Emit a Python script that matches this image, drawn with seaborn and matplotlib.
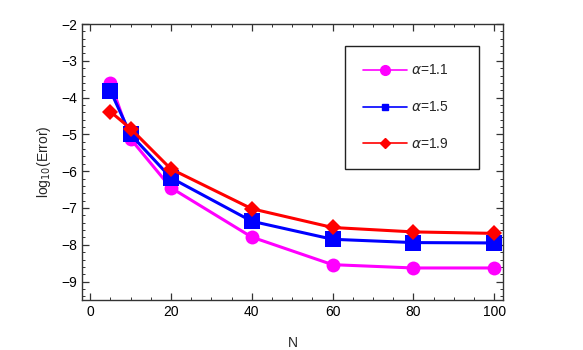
import numpy as np
import pandas as pd
import seaborn as sns
import matplotlib.pyplot as plt
from matplotlib.lines import Line2D
from matplotlib.ticker import MultipleLocator

## Data
n_vals = [5, 10, 20, 40, 60, 80, 100]
err_11 = [-3.59, -5.12, -6.45, -7.79, -8.54, -8.63, -8.63]
err_15 = [-3.81, -5.00, -6.18, -7.36, -7.85, -7.94, -7.95]
err_19 = [-4.38, -4.84, -5.94, -7.02, -7.53, -7.65, -7.69]
labels = ["α=1.1", "α=1.5", "α=1.9"]

df = pd.DataFrame({
	'N': n_vals * 3,
	'err': err_11 + err_15 + err_19,
	'alpha': [labels[0]] * 7 + [labels[1]] * 7 + [labels[2]] * 7,
})

colors = ["#ff00ff", "#0000ff", "#ff0000"]
markers = ["o", "s", "D"]
msizes = [10, 11, 8.5]

sns.set_style("ticks")
plt.rcParams['font.family'] = ['Liberation Sans', 'DejaVu Sans']

fig = plt.figure(figsize=(5.83, 3.5), dpi=100)
ax = fig.add_axes([0.1407, 0.1429, 0.7221, 0.7885])

# Lines + markers
for lab, col, mk, ms in zip(labels, colors, markers, msizes):
	sns.lineplot(data=df[df['alpha'] == lab], x='N', y='err', color=col, marker=mk,
	             markersize=ms, markeredgewidth=0, linewidth=2.2, ax=ax, legend=False)

ax.set_xlim(-2, 102.2)
ax.set_ylim(-9.5, -2)
ax.xaxis.set_major_locator(MultipleLocator(20))
ax.xaxis.set_minor_locator(MultipleLocator(5))
ax.yaxis.set_major_locator(MultipleLocator(1))
ax.yaxis.set_minor_locator(MultipleLocator(0.2))
ax.tick_params(which='both', direction='in', top=True, right=True, labelsize=10, colors='#333333', labelcolor='black')
ax.tick_params(which='major', length=5, width=0.9)
ax.tick_params(which='minor', length=2.5, width=0.7)
ax.set_yticklabels([f"\u2212{abs(int(t))}" for t in ax.get_yticks()])
for s in ax.spines.values():
	s.set_color('#333333')
	s.set_linewidth(1.0)

ax.set_xlabel("N", fontsize=10, labelpad=12)
ax.set_ylabel(r"log$_{10}$(Error)", fontsize=10, labelpad=6)

# Legend
handles = [Line2D([0], [0], color=c, marker=m, markersize=s, linewidth=1.2)
           for c, m, s in zip(colors, markers, [7, 5, 5])]
leg = ax.legend(handles, [r"$\alpha$=1.1", r"$\alpha$=1.5", r"$\alpha$=1.9"],
                loc='upper left', bbox_to_anchor=(0.625, 0.486, 0.318, 0.434), mode='expand',
                fontsize=10, labelspacing=1.65, handlelength=3.2, handletextpad=0.3,
                borderpad=1.25, borderaxespad=0, fancybox=False, framealpha=1)
leg.get_frame().set_edgecolor('#222222')
leg.get_frame().set_linewidth(1.0)

plt.savefig("out.png", dpi=100)
